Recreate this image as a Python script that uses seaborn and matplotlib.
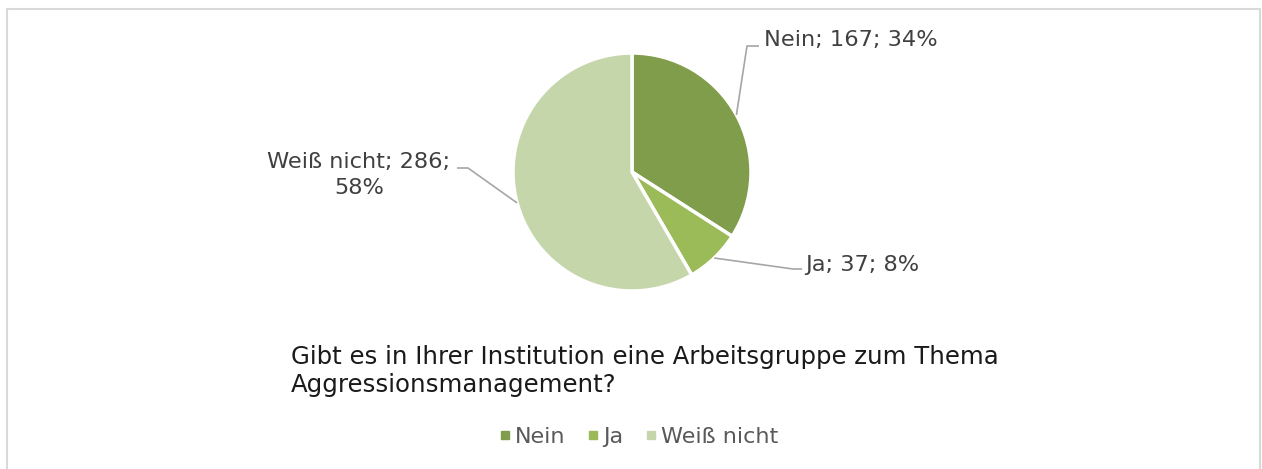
import numpy as np
import matplotlib
matplotlib.use("Agg")
import matplotlib.pyplot as plt
from matplotlib.lines import Line2D
from matplotlib.patches import Rectangle
import seaborn as sns

categories = ["Nein", "Ja", "Weiß nicht"]
counts = [167, 37, 286]
colors = ["#7F9D4A", "#9BBB59", "#C5D7AA"]
title_lines = ["Gibt es in Ihrer Institution eine Arbeitsgruppe zum Thema",
               "Aggressionsmanagement?"]

sns.set_theme(style="white")
plt.rcParams["font.family"] = ["DejaVu Sans"]

W, H = 1262, 469
fig = plt.figure(figsize=(W / 100, H / 100), dpi=100)
fig.patch.set_facecolor("white")

# outer frame of the chart area
fig.add_artist(Rectangle((7 / W, -0.05), (1260 - 7) / W, 1.05 - 9 / H,
                         transform=fig.transFigure, fill=False,
                         edgecolor="#D9D9D9", linewidth=1.5))

# pie axes: centre (632, 172), radius 119 px
cx, cy, r = 632, 172, 119
ax = fig.add_axes([(cx - r) / W, (H - cy - r) / H, 2 * r / W, 2 * r / H])

wedges, _ = ax.pie(counts, colors=colors, startangle=90, counterclock=False,
                   radius=1, wedgeprops=dict(edgecolor="white", linewidth=2.5))
ax.set_xlim(-1, 1)
ax.set_ylim(-1, 1)
ax.axis("off")

total = sum(counts)
pcts = [round(100 * c / total) for c in counts]
label_texts = [f"{c}; {n}; {p}%" for c, n, p in zip(categories, counts, pcts)]
label_texts[2] = f"{categories[2]}; {counts[2]};\n{pcts[2]}%"

def px(x, y):
    """pixel position (from top-left) to pie data coordinates"""
    return (x - cx) / r, (cy - y) / r

# leader elbows and text anchors for each label
elbows = [((747, 46), (759, 46)), ((793, 269), (802, 269)), ((468, 168), (457, 168))]
anchors = [((764, 40), "left", "center"), ((805, 265), "left", "center"),
           ((359, 175), "center", "center")]

for w, (e1, e2), ((tx, ty), ha, va), txt in zip(wedges, elbows, anchors, label_texts):
    ang = np.deg2rad((w.theta1 + w.theta2) / 2)
    x0, y0 = np.cos(ang), np.sin(ang)
    x1, y1 = px(*e1)
    x2, y2 = px(*e2)
    ax.plot([x0, x1, x2], [y0, y1, y2], color="#A6A6A6", linewidth=1.2,
            clip_on=False, solid_capstyle="butt")
    ax.text(*px(tx, ty), txt, ha=ha, va=va, fontsize=16.2, color="#404040",
            multialignment="center", linespacing=1.37, clip_on=False)

# title block
fig.text(291 / W, 1 - 371 / H, "\n".join(title_lines), ha="left", va="center",
         fontsize=17.6, color="#1A1A1A", linespacing=1.16)

# legend
handles = [Line2D([], [], marker="s", linestyle="none", markersize=6,
                  markerfacecolor=c, markeredgecolor=c) for c in colors]
fig.legend(handles, categories, loc="center", bbox_to_anchor=(639 / W, 1 - 437 / H),
           ncol=3, frameon=False, fontsize=16, labelcolor="#595959",
           handlelength=0.5, handletextpad=0.2, columnspacing=1.0)

fig.savefig("out.png", dpi=100, facecolor="white")
